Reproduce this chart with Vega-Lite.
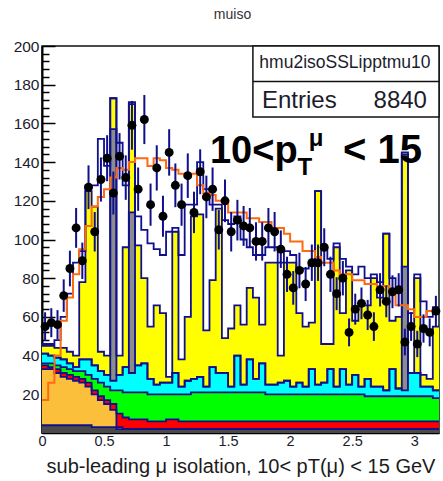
{
"$schema": "https://vega.github.io/schema/vega-lite/v6.json",
"width": 397, "height": 387,
"autosize": {"type": "none"},
"padding": {"left": 42, "top": 46, "right": 4, "bottom": 48},
"background": "white",
"title": {"text": "muiso", "fontSize": 14, "fontWeight": "normal", "color": "#333", "offset": 17, "dx": -8},
"config": {"font": "Liberation Sans", "view": {"stroke": "#111", "strokeWidth": 1.5}},
"resolve": {"axis": {"x": "independent", "y": "independent"}},
"datasets": {"h": [
{"x":0,"xc":0.025,"d":4,"o":33,"r":35,"g":36,"c":41,"gr":41,"y":45,"w":46,"mc":17,"n":55,"lo":47.6,"hi":62.4},
{"x":0.05,"xc":0.075,"d":4,"o":33,"r":34,"g":36,"c":40,"gr":40,"y":45,"w":46,"mc":26,"n":57,"lo":49.5,"hi":64.5},
{"x":0.1,"xc":0.125,"d":4,"o":31,"r":33,"g":35,"c":39,"gr":39,"y":44,"w":48,"mc":40,"n":56,"lo":48.5,"hi":63.5},
{"x":0.15,"xc":0.175,"d":4,"o":29,"r":31,"g":34,"c":38,"gr":38,"y":44,"w":60,"mc":58,"n":71,"lo":62.6,"hi":79.4},
{"x":0.2,"xc":0.225,"d":4,"o":28,"r":30,"g":33,"c":36,"gr":36,"y":42,"w":72,"mc":70,"n":85,"lo":75.8,"hi":94.2},
{"x":0.25,"xc":0.275,"d":4,"o":27,"r":29,"g":32,"c":34,"gr":34,"y":40,"w":88,"mc":82,"n":106,"lo":95.7,"hi":116.3},
{"x":0.3,"xc":0.325,"d":4,"o":26,"r":28,"g":32,"c":38,"gr":38,"y":78,"w":94,"mc":95,"n":89,"lo":79.6,"hi":98.4},
{"x":0.35,"xc":0.375,"d":4,"o":24,"r":26,"g":30,"c":38,"gr":38,"y":125,"w":128,"mc":107,"n":127,"lo":115.7,"hi":138.3},
{"x":0.4,"xc":0.425,"d":3,"o":20,"r":22,"g":28,"c":35,"gr":35,"y":117,"w":128,"mc":117,"n":104,"lo":93.8,"hi":114.2},
{"x":0.45,"xc":0.475,"d":3,"o":17,"r":19,"g":26,"c":32,"gr":32,"y":42,"w":152,"mc":122,"n":131,"lo":119.6,"hi":142.4},
{"x":0.5,"xc":0.525,"d":3,"o":15,"r":17,"g":24,"c":30,"gr":30,"y":40,"w":138,"mc":126,"n":142,"lo":130.1,"hi":153.9},
{"x":0.55,"xc":0.575,"d":3,"o":12,"r":15,"g":22,"c":27,"gr":157,"y":173,"w":173,"mc":132,"n":124,"lo":112.9,"hi":135.1},
{"x":0.6,"xc":0.625,"d":2,"o":3,"r":10,"g":22,"c":30,"gr":30,"y":40,"w":150,"mc":137,"n":143,"lo":131,"hi":155},
{"x":0.65,"xc":0.675,"d":2,"o":2,"r":8,"g":21,"c":34,"gr":34,"y":96,"w":128,"mc":136,"n":132,"lo":120.5,"hi":143.5},
{"x":0.7,"xc":0.725,"d":2,"o":2,"r":7,"g":21,"c":31,"gr":114,"y":170,"w":171,"mc":140,"n":159,"lo":146.4,"hi":171.6},
{"x":0.75,"xc":0.775,"d":2,"o":2,"r":7,"g":21,"c":35,"gr":35,"y":97,"w":112,"mc":142,"n":126,"lo":114.8,"hi":137.2},
{"x":0.8,"xc":0.825,"d":2,"o":2,"r":7,"g":21,"c":36,"gr":36,"y":80,"w":105,"mc":142,"n":162,"lo":149.3,"hi":174.7},
{"x":0.85,"xc":0.875,"d":2,"o":2,"r":6,"g":20,"c":28,"gr":28,"y":55,"w":98,"mc":138,"n":118,"lo":107.1,"hi":128.9},
{"x":0.9,"xc":0.925,"d":2,"o":2,"r":6,"g":20,"c":25,"gr":25,"y":66,"w":95,"mc":142,"n":137,"lo":125.3,"hi":148.7},
{"x":0.95,"xc":0.975,"d":2,"o":2,"r":6,"g":20,"c":26,"gr":26,"y":62,"w":92,"mc":141,"n":112,"lo":101.4,"hi":122.6},
{"x":1.0,"xc":1.025,"d":2,"o":2,"r":7,"g":20,"c":26,"gr":26,"y":29,"w":104,"mc":137,"n":145,"lo":133,"hi":157},
{"x":1.05,"xc":1.075,"d":2,"o":2,"r":7,"g":20,"c":31,"gr":31,"y":104,"w":106,"mc":136,"n":128,"lo":116.7,"hi":139.3},
{"x":1.1,"xc":1.125,"d":2,"o":2,"r":6,"g":20,"c":24,"gr":24,"y":38,"w":92,"mc":134,"n":118,"lo":107.1,"hi":128.9},
{"x":1.15,"xc":1.175,"d":2,"o":2,"r":6,"g":20,"c":27,"gr":27,"y":60,"w":118,"mc":133,"n":133,"lo":121.5,"hi":144.5},
{"x":1.2,"xc":1.225,"d":2,"o":2,"r":6,"g":21,"c":28,"gr":28,"y":112,"w":118,"mc":134,"n":114,"lo":103.3,"hi":124.7},
{"x":1.25,"xc":1.275,"d":2,"o":2,"r":6,"g":21,"c":29,"gr":29,"y":113,"w":140,"mc":128,"n":135,"lo":123.4,"hi":146.6},
{"x":1.3,"xc":1.325,"d":2,"o":2,"r":6,"g":21,"c":24,"gr":24,"y":53,"w":126,"mc":124,"n":122,"lo":111,"hi":133},
{"x":1.35,"xc":1.375,"d":2,"o":2,"r":6,"g":21,"c":34,"gr":34,"y":79,"w":118,"mc":123,"n":126,"lo":114.8,"hi":137.2},
{"x":1.4,"xc":1.425,"d":2,"o":2,"r":6,"g":21,"c":31,"gr":31,"y":116,"w":118,"mc":120,"n":105,"lo":94.8,"hi":115.2},
{"x":1.45,"xc":1.475,"d":2,"o":2,"r":6,"g":21,"c":31,"gr":31,"y":49,"w":110,"mc":120,"n":120,"lo":109,"hi":131},
{"x":1.5,"xc":1.525,"d":2,"o":2,"r":6,"g":21,"c":24,"gr":24,"y":54,"w":108,"mc":114,"n":104,"lo":93.8,"hi":114.2},
{"x":1.55,"xc":1.575,"d":2,"o":2,"r":6,"g":21,"c":40,"gr":40,"y":66,"w":112,"mc":114,"n":110,"lo":99.5,"hi":120.5},
{"x":1.6,"xc":1.625,"d":2,"o":2,"r":6,"g":21,"c":25,"gr":25,"y":56,"w":100,"mc":114,"n":107,"lo":96.7,"hi":117.3},
{"x":1.65,"xc":1.675,"d":2,"o":2,"r":6,"g":21,"c":38,"gr":38,"y":75,"w":96,"mc":111,"n":106,"lo":95.7,"hi":116.3},
{"x":1.7,"xc":1.725,"d":2,"o":2,"r":6,"g":21,"c":28,"gr":28,"y":70,"w":92,"mc":111,"n":99,"lo":89.1,"hi":108.9},
{"x":1.75,"xc":1.775,"d":2,"o":2,"r":6,"g":21,"c":36,"gr":36,"y":56,"w":92,"mc":109,"n":99,"lo":89.1,"hi":108.9},
{"x":1.8,"xc":1.825,"d":2,"o":2,"r":6,"g":20,"c":25,"gr":25,"y":88,"w":96,"mc":109,"n":106,"lo":95.7,"hi":116.3},
{"x":1.85,"xc":1.875,"d":2,"o":2,"r":6,"g":20,"c":25,"gr":25,"y":88,"w":96,"mc":106,"n":104,"lo":93.8,"hi":114.2},
{"x":1.9,"xc":1.925,"d":2,"o":2,"r":6,"g":20,"c":26,"gr":26,"y":40,"w":88,"mc":106,"n":95,"lo":85.3,"hi":104.7},
{"x":1.95,"xc":1.975,"d":2,"o":2,"r":6,"g":20,"c":27,"gr":27,"y":88,"w":94,"mc":103,"n":82,"lo":72.9,"hi":91.1},
{"x":2.0,"xc":2.025,"d":2,"o":2,"r":6,"g":20,"c":24,"gr":24,"y":88,"w":92,"mc":99,"n":75,"lo":66.3,"hi":83.7},
{"x":2.05,"xc":2.075,"d":2,"o":2,"r":6,"g":20,"c":26,"gr":26,"y":62,"w":85,"mc":99,"n":84,"lo":74.8,"hi":93.2},
{"x":2.1,"xc":2.125,"d":2,"o":2,"r":6,"g":20,"c":24,"gr":24,"y":55,"w":85,"mc":94,"n":77,"lo":68.2,"hi":85.8},
{"x":2.15,"xc":2.175,"d":2,"o":2,"r":6,"g":20,"c":33,"gr":33,"y":57,"w":88,"mc":94,"n":88,"lo":78.6,"hi":97.4},
{"x":2.2,"xc":2.225,"d":2,"o":2,"r":6,"g":20,"c":25,"gr":25,"y":125,"w":125,"mc":91,"n":88,"lo":78.6,"hi":97.4},
{"x":2.25,"xc":2.275,"d":2,"o":2,"r":6,"g":20,"c":26,"gr":26,"y":46,"w":95,"mc":88,"n":96,"lo":86.2,"hi":105.8},
{"x":2.3,"xc":2.325,"d":2,"o":2,"r":6,"g":20,"c":33,"gr":33,"y":46,"w":90,"mc":88,"n":82,"lo":72.9,"hi":91.1},
{"x":2.35,"xc":2.375,"d":2,"o":2,"r":6,"g":20,"c":24,"gr":24,"y":96,"w":98,"mc":84,"n":72,"lo":63.5,"hi":80.5},
{"x":2.4,"xc":2.425,"d":2,"o":2,"r":6,"g":20,"c":33,"gr":33,"y":62,"w":90,"mc":82,"n":80,"lo":71.1,"hi":88.9},
{"x":2.45,"xc":2.475,"d":2,"o":2,"r":6,"g":20,"c":25,"gr":25,"y":84,"w":86,"mc":82,"n":52,"lo":44.8,"hi":59.2},
{"x":2.5,"xc":2.525,"d":2,"o":2,"r":6,"g":20,"c":30,"gr":30,"y":58,"w":82,"mc":79,"n":64,"lo":56,"hi":72},
{"x":2.55,"xc":2.575,"d":2,"o":2,"r":6,"g":20,"c":24,"gr":24,"y":66,"w":86,"mc":79,"n":67,"lo":58.8,"hi":75.2},
{"x":2.6,"xc":2.625,"d":2,"o":2,"r":6,"g":19,"c":28,"gr":28,"y":66,"w":80,"mc":77,"n":61,"lo":53.2,"hi":68.8},
{"x":2.65,"xc":2.675,"d":2,"o":2,"r":6,"g":19,"c":24,"gr":24,"y":80,"w":82,"mc":77,"n":55,"lo":47.6,"hi":62.4},
{"x":2.7,"xc":2.725,"d":2,"o":2,"r":6,"g":19,"c":24,"gr":24,"y":70,"w":78,"mc":75,"n":74,"lo":65.4,"hi":82.6},
{"x":2.75,"xc":2.775,"d":2,"o":2,"r":6,"g":19,"c":22,"gr":22,"y":103,"w":103,"mc":76,"n":68,"lo":59.8,"hi":76.2},
{"x":2.8,"xc":2.825,"d":2,"o":2,"r":6,"g":19,"c":33,"gr":33,"y":58,"w":80,"mc":72,"n":73,"lo":64.5,"hi":81.5},
{"x":2.85,"xc":2.875,"d":2,"o":2,"r":6,"g":19,"c":23,"gr":23,"y":60,"w":74,"mc":66,"n":74,"lo":65.4,"hi":82.6},
{"x":2.9,"xc":2.925,"d":2,"o":2,"r":6,"g":19,"c":22,"gr":86,"y":144,"w":145,"mc":66,"n":47,"lo":40.1,"hi":53.9},
{"x":2.95,"xc":2.975,"d":2,"o":2,"r":6,"g":19,"c":31,"gr":31,"y":31,"w":62,"mc":64,"n":55,"lo":47.6,"hi":62.4},
{"x":3.0,"xc":3.025,"d":2,"o":2,"r":6,"g":19,"c":31,"gr":31,"y":80,"w":82,"mc":60,"n":46,"lo":39.2,"hi":52.8},
{"x":3.05,"xc":3.075,"d":2,"o":2,"r":6,"g":19,"c":24,"gr":24,"y":30,"w":68,"mc":60,"n":54,"lo":46.7,"hi":61.3},
{"x":3.1,"xc":3.125,"d":2,"o":2,"r":6,"g":19,"c":24,"gr":24,"y":28,"w":60,"mc":63,"n":52,"lo":44.8,"hi":59.2},
{"x":3.15,"xc":3.175,"d":2,"o":2,"r":6,"g":18,"c":22,"gr":22,"y":55,"w":65,"mc":63,"n":63,"lo":55.1,"hi":70.9},
{"x":3.2,"d":2,"o":2,"r":6,"g":18,"c":22,"gr":22,"y":55,"w":65,"mc":63}
]},
"data": {"name": "h"},
"layer": [
{"mark": {"type": "area", "interpolate": "step-after", "color": "#ffff00", "clip": true},
 "encoding": {
  "x": {"field": "x", "type": "quantitative", "scale": {"domain": [0, 3.2], "nice": false, "zero": false},
        "axis": {"orient": "bottom", "values": [0, 0.5, 1, 1.5, 2, 2.5, 3], "format": "~g", "tickSize": -11, "tickColor": "#000", "tickWidth": 1, "domainColor": "#000", "domainWidth": 1.5, "labelFontSize": 14.5, "labelColor": "#1c1c2c", "labelPadding": 12, "labelFlush": false, "grid": false,
                 "title": "sub-leading μ isolation, 10< pT(μ) < 15 GeV", "titleFontSize": 20, "titleFontWeight": "normal", "titleColor": "#1c1c1c", "titlePadding": 9}},
  "y": {"field": "y", "type": "quantitative", "stack": null, "scale": {"domain": [0, 200], "nice": false},
        "axis": {"orient": "left", "values": [20, 40, 60, 80, 100, 120, 140, 160, 180, 200], "tickSize": -13, "tickColor": "#000", "tickWidth": 1.5, "domainColor": "#000", "domainWidth": 2, "labelFontSize": 15.5, "labelColor": "#1c1c2c", "labelPadding": 16, "labelFlush": false, "grid": false, "title": null}}
 }},
{"mark": {"type": "area", "interpolate": "step-after", "color": "#8c8c8c", "clip": true},
 "encoding": {
  "x": {"field": "x", "type": "quantitative",
        "axis": {"orient": "bottom", "values": [0.1,0.2,0.3,0.4,0.6,0.7,0.8,0.9,1.1,1.2,1.3,1.4,1.6,1.7,1.8,1.9,2.1,2.2,2.3,2.4,2.6,2.7,2.8,2.9,3.1], "tickSize": -6, "tickColor": "#000", "labels": false, "domain": false, "grid": false, "title": null}},
  "y": {"field": "gr", "type": "quantitative", "stack": null,
        "axis": {"orient": "left", "values": [4,8,12,16,24,28,32,36,44,48,52,56,64,68,72,76,84,88,92,96,104,108,112,116,124,128,132,136,144,148,152,156,164,168,172,176,184,188,192,196], "tickSize": -7, "tickColor": "#000", "tickWidth": 1.5, "labels": false, "domain": false, "grid": false, "title": null}}
 }},
{"mark": {"type": "area", "interpolate": "step-after", "color": "#00ffff", "clip": true},
 "encoding": {"x": {"field": "x", "type": "quantitative", "axis": null}, "y": {"field": "c", "type": "quantitative", "stack": null, "axis": null}}},
{"mark": {"type": "area", "interpolate": "step-after", "color": "#00ff00", "clip": true},
 "encoding": {"x": {"field": "x", "type": "quantitative", "axis": null}, "y": {"field": "g", "type": "quantitative", "stack": null, "axis": null}}},
{"mark": {"type": "area", "interpolate": "step-after", "color": "#ff0000", "clip": true},
 "encoding": {"x": {"field": "x", "type": "quantitative", "axis": null}, "y": {"field": "r", "type": "quantitative", "stack": null, "axis": null}}},
{"mark": {"type": "area", "interpolate": "step-after", "color": "#fcbf3c", "clip": true},
 "encoding": {"x": {"field": "x", "type": "quantitative", "axis": null}, "y": {"field": "o", "type": "quantitative", "stack": null, "axis": null}}},
{"mark": {"type": "area", "interpolate": "step-after", "color": "#4a4a4a", "clip": true},
 "encoding": {"x": {"field": "x", "type": "quantitative", "axis": null}, "y": {"field": "d", "type": "quantitative", "stack": null, "axis": null}}},
{"transform": [{"fold": ["w", "y", "gr", "c", "g", "r", "o", "d"], "as": ["k", "v"]}],
 "mark": {"type": "line", "interpolate": "step-after", "color": "#10108c", "strokeWidth": 1.8, "clip": true},
 "encoding": {"x": {"field": "x", "type": "quantitative", "axis": null}, "y": {"field": "v", "type": "quantitative", "axis": null}, "detail": {"field": "k"}}},
{"mark": {"type": "line", "interpolate": "step-after", "color": "#ff6a10", "strokeWidth": 2, "clip": true},
 "encoding": {"x": {"field": "x", "type": "quantitative", "axis": null}, "y": {"field": "mc", "type": "quantitative", "axis": null}}},
{"transform": [{"filter": "isValid(datum.n)"}],
 "mark": {"type": "rule", "color": "#10108c", "strokeWidth": 2},
 "encoding": {"x": {"field": "xc", "type": "quantitative", "axis": null}, "y": {"field": "lo", "type": "quantitative", "axis": null}, "y2": {"field": "hi"}}},
{"transform": [{"filter": "isValid(datum.n)"}],
 "mark": {"type": "circle", "color": "#000", "opacity": 1, "size": 80},
 "encoding": {"x": {"field": "xc", "type": "quantitative", "axis": null}, "y": {"field": "n", "type": "quantitative", "axis": null}}},
{"data": {"values": [{}]},
 "mark": {"type": "rect", "fill": "#fff", "stroke": "#111", "strokeWidth": 1.5},
 "encoding": {"x": {"datum": 1.70, "type": "quantitative", "axis": null}, "x2": {"datum": 3.2}, "y": {"datum": 163.3, "type": "quantitative", "axis": null}, "y2": {"datum": 200}}},
{"data": {"values": [{}]},
 "mark": {"type": "rule", "color": "#111", "strokeWidth": 1.5},
 "encoding": {"x": {"datum": 1.70, "type": "quantitative", "axis": null}, "x2": {"datum": 3.2}, "y": {"datum": 181.6, "type": "quantitative", "axis": null}}},
{"data": {"values": [{}]},
 "mark": {"type": "text", "text": "hmu2isoSSLipptmu10", "fontSize": 17.5, "align": "center", "baseline": "middle", "color": "#1c1c2c"},
 "encoding": {"x": {"datum": 2.442, "type": "quantitative", "axis": null}, "y": {"datum": 191.2, "type": "quantitative", "axis": null}}},
{"data": {"values": [{}]},
 "mark": {"type": "text", "text": "Entries", "fontSize": 24, "align": "left", "baseline": "alphabetic", "color": "#1c1c2c"},
 "encoding": {"x": {"datum": 1.773, "type": "quantitative", "axis": null}, "y": {"datum": 168, "type": "quantitative", "axis": null}}},
{"data": {"values": [{}]},
 "mark": {"type": "text", "text": "8840", "fontSize": 24, "align": "right", "baseline": "alphabetic", "color": "#1c1c2c"},
 "encoding": {"x": {"datum": 3.103, "type": "quantitative", "axis": null}, "y": {"datum": 168, "type": "quantitative", "axis": null}}},
{"data": {"values": [{}]},
 "mark": {"type": "text", "text": "10<p", "fontSize": 38, "fontWeight": "bold", "align": "left", "baseline": "alphabetic", "color": "#000"},
 "encoding": {"x": {"datum": 1.354, "type": "quantitative", "axis": null}, "y": {"datum": 139.5, "type": "quantitative", "axis": null}}},
{"data": {"values": [{}]},
 "mark": {"type": "text", "text": "T", "fontSize": 24, "fontWeight": "bold", "align": "left", "baseline": "alphabetic", "color": "#000"},
 "encoding": {"x": {"datum": 2.06, "type": "quantitative", "axis": null}, "y": {"datum": 133.3, "type": "quantitative", "axis": null}}},
{"data": {"values": [{}]},
 "mark": {"type": "text", "text": "μ", "fontSize": 24, "fontWeight": "bold", "align": "left", "baseline": "alphabetic", "color": "#000"},
 "encoding": {"x": {"datum": 2.15, "type": "quantitative", "axis": null}, "y": {"datum": 148.5, "type": "quantitative", "axis": null}}},
{"data": {"values": [{}]},
 "mark": {"type": "text", "text": "< 15", "fontSize": 40, "fontWeight": "bold", "align": "left", "baseline": "alphabetic", "color": "#000"},
 "encoding": {"x": {"datum": 2.426, "type": "quantitative", "axis": null}, "y": {"datum": 139.5, "type": "quantitative", "axis": null}}}
]
}
